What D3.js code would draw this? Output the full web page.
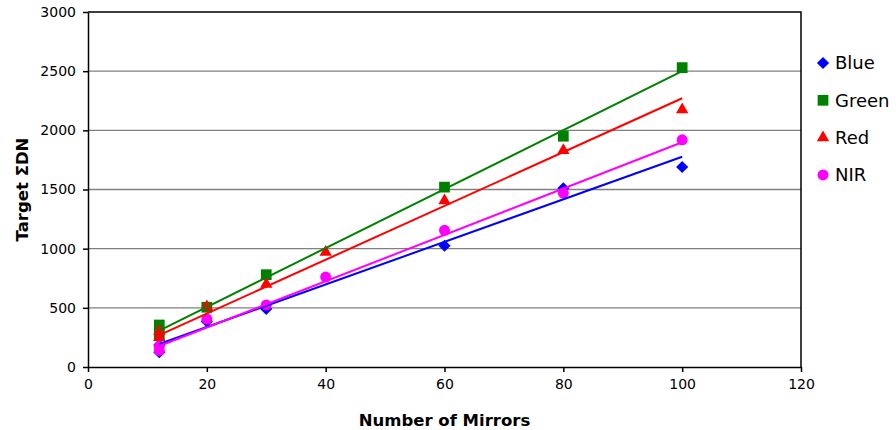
<!DOCTYPE html>
<html>
<head>
<meta charset="utf-8">
<script src="https://cdn.jsdelivr.net/npm/d3@7"></script>
<style>
  body { margin: 0; background: #fff; }
  svg { display: block; font-family: "DejaVu Sans", sans-serif; }
</style>
</head>
<body>
<svg id="chart"></svg>
<script>
// Values
const seriesNames = ['Blue', 'Green', 'Red', 'NIR'];

const blueMirrors = [12, 12, 20, 30, 60, 80, 100];
const blueDN = [185, 125, 385, 490, 1025, 1510, 1690];

const greenMirrors = [12, 12, 20, 30, 60, 80, 100];
const greenDN = [355, 275, 505, 780, 1520, 1950, 2530];

const redMirrors = [12, 12, 20, 30, 40, 60, 80, 100];
const redDN = [300, 250, 510, 700, 970, 1405, 1830, 2175];

const nirMirrors = [12, 12, 20, 30, 40, 60, 80, 100];
const nirDN = [175, 140, 405, 525, 760, 1155, 1470, 1920];

// linear trendlines, value at first and last mirror count
const trendMirrors = [12, 100];
const blueTrend = [194, 1777];
const greenTrend = [307, 2501];
const redTrend = [270, 2271];
const nirTrend = [177, 1899];

const xTicks = [0, 20, 40, 60, 80, 100, 120];
const yTicks = [0, 500, 1000, 1500, 2000, 2500, 3000];

class TrendChart {

  constructor(_config, _data) {
    this.config = {
      parentElement: _config.parentElement,
      containerWidth: _config.containerWidth || 896,
      containerHeight: _config.containerHeight || 430,
      margin: _config.margin || {top: 12, right: 95, bottom: 63, left: 88}
    }
    this.data = _data;
    this.initVis();
  }

  initVis() {
    let vis = this;

    vis.width = vis.config.containerWidth - vis.config.margin.left - vis.config.margin.right;
    vis.height = vis.config.containerHeight - vis.config.margin.top - vis.config.margin.bottom;

    vis.xScale = d3.scaleLinear()
      .domain([0, 120])
      .range([0, vis.width]);

    vis.yScale = d3.scaleLinear()
      .domain([0, 3000])
      .range([vis.height, 0]);

    vis.xAxis = d3.axisBottom(vis.xScale)
      .tickValues(xTicks)
      .tickFormat(d3.format('d'))
      .tickSize(5)
      .tickSizeOuter(0)
      .tickPadding(7);

    vis.yAxis = d3.axisLeft(vis.yScale)
      .tickValues(yTicks)
      .tickFormat(d3.format('d'))
      .tickSize(5)
      .tickSizeOuter(0)
      .tickPadding(7);

    vis.svg = d3.select(vis.config.parentElement)
      .attr('width', vis.config.containerWidth)
      .attr('height', vis.config.containerHeight);

    vis.chart = vis.svg.append('g')
      .attr('transform', `translate(${vis.config.margin.left},${vis.config.margin.top})`);

    // Gridlines (top one is part of the black frame)
    vis.chart.selectAll('.grid')
      .data(yTicks.filter(d => d > 0 && d < 3000))
      .join('line')
      .attr('class', 'grid')
      .attr('x1', 0)
      .attr('x2', vis.width)
      .attr('y1', d => vis.yScale(d))
      .attr('y2', d => vis.yScale(d))
      .attr('stroke', '#808080')
      .attr('stroke-width', 1.3);

    // frame top & right
    vis.chart.append('path')
      .attr('d', `M0,${vis.yScale(3000)}H${vis.width}V${vis.height}`)
      .attr('fill', 'none')
      .attr('stroke', '#000')
      .attr('stroke-width', 1.5);

    vis.xAxisG = vis.chart.append('g')
      .attr('class', 'axis x-axis')
      .attr('transform', `translate(0,${vis.height})`);

    vis.yAxisG = vis.chart.append('g')
      .attr('class', 'axis y-axis');

    vis.markG = vis.chart.append('g');
    vis.lineG = vis.chart.append('g');

    // Axis titles
    vis.svg.append('text')
      .attr('x', vis.config.margin.left + vis.width / 2)
      .attr('y', 426)
      .attr('text-anchor', 'middle')
      .attr('font-weight', 'bold')
      .attr('font-size', 16.5)
      .text('Number of Mirrors');

    vis.svg.append('text')
      .attr('transform', `translate(28,${vis.config.margin.top + vis.height / 2}) rotate(-90)`)
      .attr('text-anchor', 'middle')
      .attr('font-weight', 'bold')
      .attr('font-size', 16.5)
      .text('Target ΣDN');

    vis.legendG = vis.svg.append('g')
      .attr('transform', 'translate(823,63)');
  }

  symbolPath(shape) {
    if (shape === 'diamond') return d3.symbol(d3.symbolSquare, 74)();
    if (shape === 'square') return d3.symbol(d3.symbolSquare, 115)();
    if (shape === 'triangle') return d3.symbol(d3.symbolTriangle, 66)();
    return d3.symbol(d3.symbolCircle, 95)();
  }

  renderVis() {
    let vis = this;

    vis.xAxisG.call(vis.xAxis);
    vis.yAxisG.call(vis.yAxis);

    vis.chart.selectAll('.axis')
      .attr('font-family', '"DejaVu Sans", sans-serif')
      .attr('font-size', 14);
    vis.chart.selectAll('.axis path, .axis line')
      .attr('stroke', '#000')
      .attr('stroke-width', 1.5);
    vis.chart.selectAll('.axis text').attr('fill', '#000');

    // markers
    const groups = vis.markG.selectAll('.series')
      .data(vis.data)
      .join('g')
      .attr('class', 'series');

    groups.selectAll('path')
      .data(s => s.mirrors.map((m, i) => ({x: m, y: s.values[i], s})))
      .join('path')
      .attr('d', d => vis.symbolPath(d.s.shape))
      .attr('transform', d => `translate(${vis.xScale(d.x)},${vis.yScale(d.y)})${d.s.shape === 'diamond' ? ' rotate(45)' : ''}`)
      .attr('fill', d => d.s.color);

    // trendlines
    const line = d3.line()
      .x(d => vis.xScale(d[0]))
      .y(d => vis.yScale(d[1]));

    vis.lineG.selectAll('.trend')
      .data(vis.data)
      .join('path')
      .attr('class', 'trend')
      .attr('d', s => line(trendMirrors.map((m, i) => [m, s.trend[i]])))
      .attr('fill', 'none')
      .attr('stroke', s => s.color)
      .attr('stroke-width', 2);

    // legend
    const items = vis.legendG.selectAll('.legend-item')
      .data(vis.data)
      .join('g')
      .attr('class', 'legend-item')
      .attr('transform', (d, i) => `translate(0,${i * 37.3})`);

    items.append('path')
      .attr('d', d => vis.symbolPath(d.shape))
      .attr('transform', d => d.shape === 'diamond' ? 'rotate(45)' : null)
      .attr('fill', d => d.color);

    items.append('text')
      .attr('x', 12)
      .attr('dy', '0.36em')
      .attr('font-size', 18)
      .text(d => d.name);
  }
}

const seriesData = [
  {name: seriesNames[0], mirrors: blueMirrors, values: blueDN, trend: blueTrend, color: '#0000ff', shape: 'diamond'},
  {name: seriesNames[1], mirrors: greenMirrors, values: greenDN, trend: greenTrend, color: '#008000', shape: 'square'},
  {name: seriesNames[2], mirrors: redMirrors, values: redDN, trend: redTrend, color: '#ff0000', shape: 'triangle'},
  {name: seriesNames[3], mirrors: nirMirrors, values: nirDN, trend: nirTrend, color: '#ff00ff', shape: 'circle'}
];

const chart = new TrendChart({parentElement: '#chart'}, seriesData);
chart.renderVis();
</script>
</body>
</html>
